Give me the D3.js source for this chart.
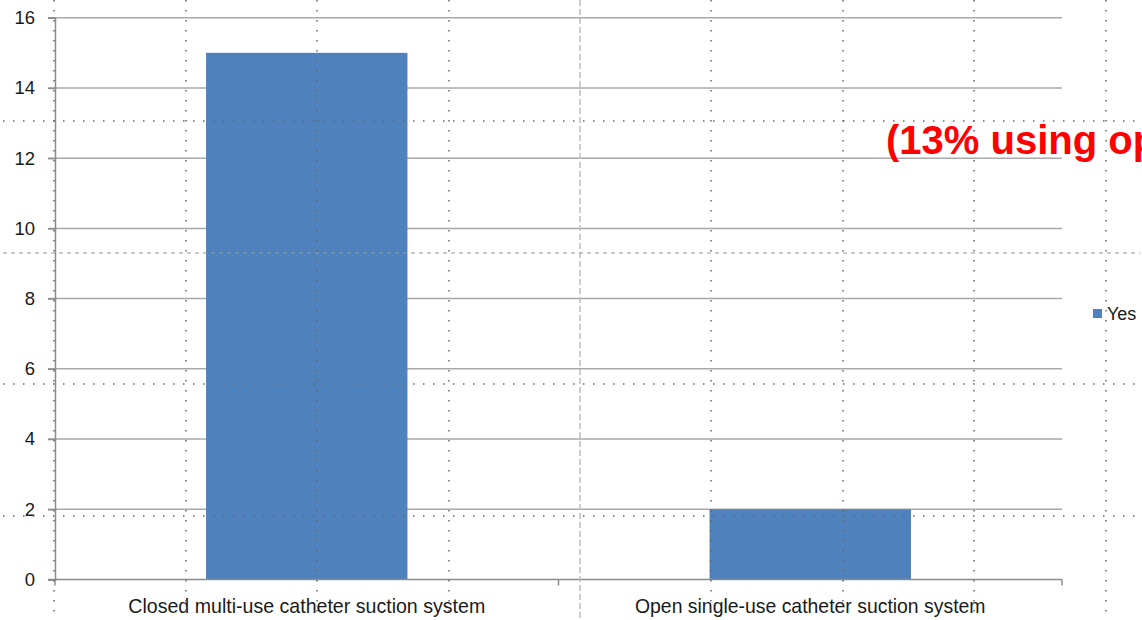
<!DOCTYPE html>
<html><head><meta charset="utf-8">
<script src="https://cdn.jsdelivr.net/npm/d3@7"></script>
<style>html,body{margin:0;padding:0;background:#fff;overflow:hidden}svg{display:block}</style>
</head><body>
<svg id="c" width="1142" height="620"></svg>
<script>
const categories = ["Closed multi-use catheter suction system", "Open single-use catheter suction system"];
const seriesName = "Yes";
const yesValues = [15, 2];
const yTicks = [0, 2, 4, 6, 8, 10, 12, 14, 16];
const annotation = "(13% using open single-use system)";
const guideXs = [54, 186, 317, 449, 711, 843, 974, 1106];
const guideYs = [121, 384, 516];

const svg = d3.select("#c");
const W = 1142, H = 620;
const L = 55, R = 1062, T = 17.7, B = 579.5;
const font = "'Liberation Sans', Arial, sans-serif";

const y = d3.scaleLinear().domain([0, 16]).range([B, T]);
const xBand = d3.scaleBand().domain(categories).range([L, R]).paddingInner(0.6).paddingOuter(0.3);
const xCat = d3.scaleBand().domain(categories).range([L, R]).padding(0);

// gridlines
svg.append("g").selectAll("line").data(yTicks.filter(d => d > 0)).join("line")
  .attr("x1", L - 7).attr("x2", R).attr("y1", d => y(d)).attr("y2", d => y(d))
  .attr("stroke", "#a9a9a9").attr("stroke-width", 1.5);

// y axis
const yAxis = d3.axisLeft(y).tickValues(yTicks).tickSize(7).tickPadding(13).tickFormat(d3.format("d"));
const gy = svg.append("g").attr("transform", `translate(${L},0)`).call(yAxis);
gy.select(".domain").attr("stroke", "#8c8c8c").attr("stroke-width", 1.5);
gy.selectAll(".tick line").attr("stroke", "#8c8c8c").attr("stroke-width", 1.5);
gy.selectAll("text").attr("font-family", font).attr("font-size", 18.5).attr("fill", "#1a1a1a");

// bars
svg.append("g").selectAll("rect").data(yesValues).join("rect")
  .attr("x", (d, i) => xBand(categories[i]))
  .attr("width", xBand.bandwidth())
  .attr("y", d => y(d))
  .attr("height", d => y(0) - y(d))
  .attr("fill", "#4f81bd");

// x axis
const xAxis = d3.axisBottom(xCat).tickSize(0).tickPadding(0);
const gx = svg.append("g").attr("transform", `translate(0,${B})`).call(xAxis);
gx.select(".domain").remove();
gx.selectAll(".tick text").remove();
svg.append("line").attr("x1", L - 7).attr("x2", R).attr("y1", B).attr("y2", B).attr("stroke", "#8c8c8c").attr("stroke-width", 1.5);
const bounds = [L, ...categories.map(c => xCat(c) + xCat.bandwidth())];
svg.append("g").selectAll("line").data(bounds).join("line")
  .attr("x1", d => d).attr("x2", d => d).attr("y1", B).attr("y2", B + 6)
  .attr("stroke", "#8c8c8c").attr("stroke-width", 1.5);
const catText = svg.append("g").selectAll("text").data(categories).join("text")
  .attr("x", d => xCat(d) + xCat.bandwidth() / 2).attr("y", 613)
  .attr("text-anchor", "middle").attr("font-family", font).attr("font-size", 16.5)
  .attr("fill", "#1a1a1a").text(d => d);
catText.each(function(d, i) {
  const target = i === 0 ? 357 : 351;
  const w = this.getComputedTextLength();
  d3.select(this).attr("font-size", 16.5 * target / w);
});

// legend
svg.append("rect").attr("x", 1093).attr("y", 309).attr("width", 9).attr("height", 9).attr("fill", "#4f81bd");
svg.append("text").attr("x", 1107).attr("y", 320).attr("font-family", font).attr("font-size", 18)
  .attr("fill", "#1a1a1a").text(seriesName);

// guides
const guides = svg.append("g");
guides.selectAll("line.v").data(guideXs).join("line").attr("class", "v")
  .attr("x1", d => d).attr("x2", d => d).attr("y1", 0).attr("y2", H)
  .attr("stroke", "#666").attr("stroke-width", 1.5).attr("stroke-dasharray", "1.5,8.5");
guides.append("line").attr("x1", 580).attr("x2", 580).attr("y1", 0).attr("y2", H)
  .attr("stroke", "#bdbdbd").attr("stroke-width", 1.5).attr("stroke-dasharray", "6,3");
guides.selectAll("line.h").data(guideYs).join("line").attr("class", "h")
  .attr("x1", 3).attr("x2", 1140).attr("y1", d => d).attr("y2", d => d)
  .attr("stroke", "#666").attr("stroke-width", 1.5).attr("stroke-dasharray", "1.5,8.5");
guides.append("line").attr("x1", 3).attr("x2", 1140).attr("y1", 253).attr("y2", 253)
  .attr("stroke", "#999").attr("stroke-width", 1).attr("stroke-dasharray", "4,4");

// annotation (cut off at the right edge, as in the reference)
svg.append("text").attr("x", 886).attr("y", 154).attr("font-family", font).attr("font-weight", "bold")
  .attr("font-size", 40).attr("fill", "#ff0000").text(annotation);
</script>
</body></html>
